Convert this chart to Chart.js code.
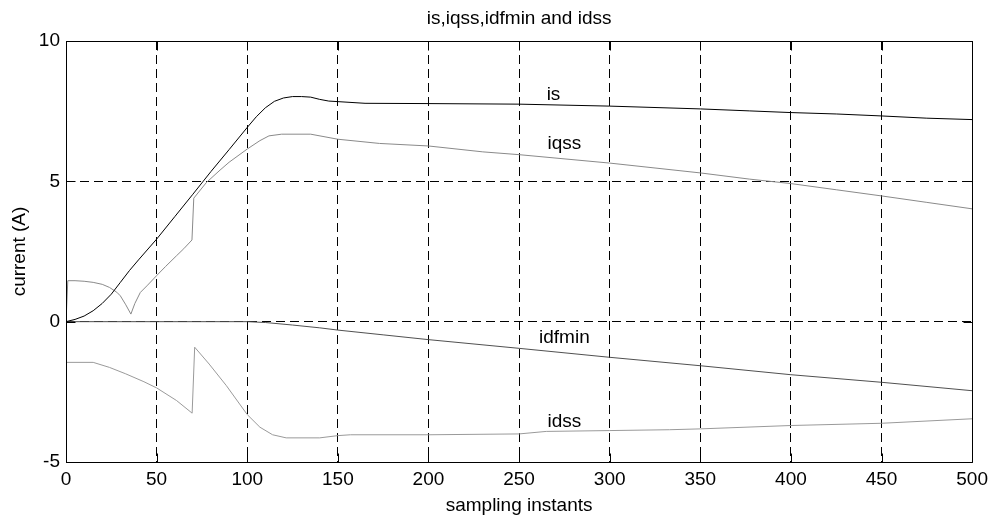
<!DOCTYPE html>
<html>
<head>
<meta charset="utf-8">
<script src="https://cdn.jsdelivr.net/npm/chart.js@4/dist/chart.umd.min.js"></script>
<style>
  html, body { margin: 0; padding: 0; background: #fff; }
  #wrap { width: 994px; height: 521px; }
</style>
</head>
<body>
<div id="wrap"><canvas id="c" width="994" height="521"></canvas></div>
<script>
// Stator current components over the sampling instants
const isX = [0, 5, 10, 15, 20, 25, 30, 35, 40, 50, 60, 70, 80, 90, 100, 105, 110, 115, 120, 125, 130, 135, 140, 145, 150, 165, 200, 250, 300, 350, 377, 400, 425, 450, 475, 500];
const isY = [0, 0.08, 0.2, 0.39, 0.65, 0.98, 1.4, 1.82, 2.2, 2.94, 3.74, 4.54, 5.35, 6.13, 6.92, 7.3, 7.62, 7.85, 7.97, 8.02, 8.02, 8.0, 7.92, 7.86, 7.84, 7.78, 7.77, 7.75, 7.68, 7.58, 7.51, 7.45, 7.4, 7.33, 7.25, 7.2];

const iqssX = [0, 1, 5, 10, 15, 20, 24, 28, 30, 33, 35.8, 38, 41, 45, 50, 55, 61, 65, 69.5, 70.5, 77.5, 85, 90, 100, 107, 112, 119, 135, 150, 173, 200, 230, 250, 300, 350, 377, 400, 425, 450, 475, 500];
const iqssY = [0, 1.46, 1.46, 1.44, 1.4, 1.33, 1.22, 1.05, 0.92, 0.6, 0.27, 0.65, 1.04, 1.3, 1.64, 1.97, 2.35, 2.6, 2.91, 4.4, 4.96, 5.4, 5.68, 6.15, 6.45, 6.62, 6.68, 6.68, 6.5, 6.35, 6.26, 6.05, 5.95, 5.65, 5.3, 5.08, 4.92, 4.7, 4.48, 4.25, 4.02];

const idfminX = [0, 100, 110, 125, 140, 150, 175, 200, 250, 300, 350, 400, 450, 500];
const idfminY = [0, 0, -0.03, -0.12, -0.22, -0.3, -0.47, -0.64, -0.95, -1.27, -1.57, -1.89, -2.16, -2.46];

const idssX = [0, 15, 24, 33, 43, 50, 61, 69.6, 71, 79, 88.5, 100, 107, 114, 121.5, 140, 150, 157, 200, 250, 265, 300, 333, 350, 400, 450, 500];
const idssY = [-1.45, -1.45, -1.63, -1.86, -2.14, -2.36, -2.81, -3.26, -0.91, -1.51, -2.28, -3.31, -3.76, -4.03, -4.14, -4.14, -4.06, -4.03, -4.03, -4.0, -3.91, -3.88, -3.85, -3.82, -3.7, -3.62, -3.46];

// Curve names written next to each trace (data coordinates)
const curveLabels = [
  { text: 'is',     x: 269, y: 8.1 },
  { text: 'iqss',   x: 275, y: 6.35 },
  { text: 'idfmin', x: 275, y: -0.57 },
  { text: 'idss',   x: 275, y: -3.58 }
];

const xTicksStep = 50;
const yTicksStep = 5;

const FONT = '"Liberation Sans", Arial, Helvetica, sans-serif';

function pts(xs, ys) { return xs.map((x, i) => ({ x: x, y: ys[i] })); }

function line(label, xs, ys, color) {
  return {
    label: label,
    data: pts(xs, ys),
    borderColor: color,
    borderWidth: 1,
    pointRadius: 0,
    tension: 0,
    fill: false
  };
}

// Box frame, inward tick marks, title and curve names
const decorations = {
  id: 'decorations',
  afterDatasetsDraw(chart) {
    const { ctx, chartArea: a, scales } = chart;
    ctx.save();
    ctx.strokeStyle = '#000';
    ctx.lineWidth = 1;
    ctx.setLineDash([]);
    const L = Math.round(a.left) + 0.5, R = Math.round(a.right) + 0.5;
    const T = Math.round(a.top) + 0.5, B = Math.round(a.bottom) + 0.5;
    ctx.beginPath();
    ctx.rect(L, T, R - L, B - T);
    ctx.stroke();
    const tl = 9;
    ctx.beginPath();
    scales.x.ticks.forEach(t => {
      const px = Math.round(scales.x.getPixelForValue(t.value)) + 0.5;
      ctx.moveTo(px, B); ctx.lineTo(px, B - tl);
      ctx.moveTo(px, T); ctx.lineTo(px, T + tl);
    });
    scales.y.ticks.forEach(t => {
      const py = Math.round(scales.y.getPixelForValue(t.value)) + 0.5;
      ctx.moveTo(L, py); ctx.lineTo(L + tl, py);
      ctx.moveTo(R, py); ctx.lineTo(R - tl, py);
    });
    ctx.stroke();

    ctx.fillStyle = '#000';
    ctx.font = '19px ' + FONT;
    ctx.textAlign = 'center';
    ctx.textBaseline = 'alphabetic';
    ctx.fillText('is,iqss,idfmin and idss', (a.left + a.right) / 2, 23.5);

    ctx.textBaseline = 'middle';
    curveLabels.forEach(l => {
      ctx.fillText(l.text, scales.x.getPixelForValue(l.x), scales.y.getPixelForValue(l.y));
    });
    ctx.restore();
  }
};

new Chart(document.getElementById('c'), {
  type: 'line',
  data: {
    datasets: [
      line('is', isX, isY, '#000000'),
      line('iqss', iqssX, iqssY, '#8a8a8a'),
      line('idfmin', idfminX, idfminY, '#505050'),
      line('idss', idssX, idssY, '#9a9a9a')
    ]
  },
  options: {
    responsive: false,
    animation: false,
    devicePixelRatio: 1,
    layout: { padding: { top: 41, right: 20, left: 0, bottom: 0 } },
    plugins: {
      legend: { display: false },
      tooltip: { enabled: false },
      title: { display: false }
    },
    scales: {
      x: {
        type: 'linear',
        min: 0, max: 500,
        afterFit(s) { s.height = 59; },
        ticks: { stepSize: xTicksStep, color: '#000', font: { size: 19, family: FONT }, padding: 6, maxRotation: 0 },
        grid: { color: '#000', lineWidth: 1, drawTicks: false },
        border: { display: false, dash: [9, 5] },
        title: { display: true, text: 'sampling instants', color: '#000', font: { size: 19, family: FONT }, padding: { top: 0, bottom: 4 } }
      },
      y: {
        type: 'linear',
        min: -5, max: 10,
        afterFit(s) { s.width = 66; },
        ticks: { stepSize: yTicksStep, color: '#000', font: { size: 19, family: FONT }, padding: 6 },
        grid: { color: '#000', lineWidth: 1, drawTicks: false },
        border: { display: false, dash: [9, 5] },
        title: { display: true, text: 'current (A)', color: '#000', font: { size: 19, family: FONT }, padding: { top: 8, bottom: 0 } }
      }
    }
  },
  plugins: [decorations]
});
</script>
</body>
</html>
